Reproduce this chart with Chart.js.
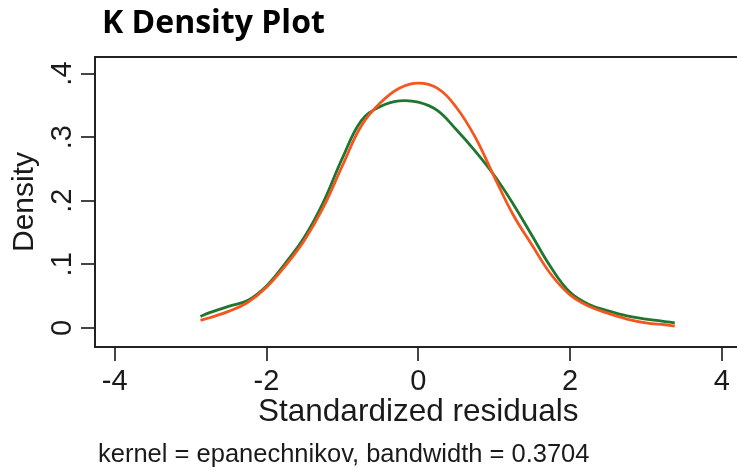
<!DOCTYPE html>
<html>
<head>
<meta charset="utf-8">
<script src="https://cdn.jsdelivr.net/npm/chart.js@4.4.1/dist/chart.umd.min.js"></script>
<style>
  html, body { margin: 0; padding: 0; background: #fff; }
</style>
</head>
<body>
<canvas id="densityChart" width="737" height="473"></canvas>
<script>
// residual grid (x) and the two density curves
const residualX = [-2.87, -2.75, -2.5, -2.25, -2, -1.75, -1.5, -1.25, -1, -0.75, -0.5, -0.25, 0,
                   0.25, 0.5, 0.75, 1, 1.25, 1.5, 1.75, 2, 2.25, 2.5, 2.75, 3, 3.25, 3.38];
const normalDensity = [0.012, 0.016, 0.026, 0.040, 0.064, 0.098, 0.138, 0.190, 0.255, 0.318, 0.354, 0.377, 0.385,
                       0.377, 0.347, 0.300, 0.238, 0.178, 0.130, 0.084, 0.052, 0.034, 0.023, 0.014, 0.008, 0.005, 0.003];
const kernelDensity = [0.018, 0.024, 0.034, 0.043, 0.066, 0.102, 0.143, 0.198, 0.267, 0.326, 0.348, 0.357, 0.355,
                       0.342, 0.312, 0.278, 0.240, 0.195, 0.145, 0.095, 0.056, 0.037, 0.027, 0.019, 0.014, 0.010, 0.008];

const xTickValues = [-4, -2, 0, 2, 4];
const yTickValues = [0, 0.1, 0.2, 0.3, 0.4];
const yTickLabels = ['0', '.1', '.2', '.3', '.4'];

const AXIS_FONT = '"Liberation Sans", Arial, sans-serif';

// 텍스트(제목, 축 제목, 회전된 y 눈금, 각주) 그리기
const stataText = {
    id: 'stataText',
    afterDraw(chart) {
        const ctx = chart.ctx;
        const area = chart.chartArea;
        const xs = chart.scales.x;
        const ys = chart.scales.y;
        ctx.save();

        // top frame line
        ctx.strokeStyle = '#222';
        ctx.lineWidth = 2;
        ctx.beginPath();
        ctx.moveTo(area.left, area.top);
        ctx.lineTo(area.right, area.top);
        ctx.stroke();

        // title
        ctx.fillStyle = '#000';
        ctx.font = 'bold 32px "Open Sans", sans-serif';
        ctx.textAlign = 'left';
        ctx.textBaseline = 'middle';
        ctx.fillText('K Density Plot', 102, 24);

        // rotated y tick labels
        ctx.fillStyle = '#1a1a1a';
        ctx.font = '29px ' + AXIS_FONT;
        yTickValues.forEach(function(v, i) {
            ctx.save();
            ctx.translate(63, ys.getPixelForValue(v));
            ctx.rotate(-Math.PI / 2);
            ctx.textAlign = 'center';
            ctx.textBaseline = 'middle';
            ctx.fillText(yTickLabels[i], 0, 0);
            ctx.restore();
        });

        // y axis title
        ctx.font = '30px ' + AXIS_FONT;
        ctx.save();
        ctx.translate(25, (area.top + area.bottom) / 2);
        ctx.rotate(-Math.PI / 2);
        ctx.textAlign = 'center';
        ctx.textBaseline = 'middle';
        ctx.fillText('Density', 0, 0);
        ctx.restore();

        // x axis title
        ctx.font = '31.5px ' + AXIS_FONT;
        ctx.textAlign = 'center';
        ctx.textBaseline = 'middle';
        ctx.fillText('Standardized residuals', xs.getPixelForValue(0), 412);

        // footnote
        ctx.font = '25.5px ' + AXIS_FONT;
        ctx.textAlign = 'left';
        ctx.fillText('kernel = epanechnikov, bandwidth = 0.3704', 98, 455);

        ctx.restore();
    }
};

new Chart(document.getElementById('densityChart'), {
    type: 'line',
    data: {
        datasets: [
            {
                label: 'Normal density',
                data: residualX.map((x, i) => ({ x: x, y: normalDensity[i] })),
                borderColor: '#f5561d',
                borderWidth: 2.8,
                pointRadius: 0,
                tension: 0.4,
                fill: false
            },
            {
                label: 'Kernel density estimate',
                data: residualX.map((x, i) => ({ x: x, y: kernelDensity[i] })),
                borderColor: '#1f7630',
                borderWidth: 2.8,
                pointRadius: 0,
                tension: 0.4,
                fill: false
            }
        ]
    },
    options: {
        responsive: false,
        animation: false,
        layout: { padding: { top: 57, right: 0, left: 0, bottom: 0 } },
        plugins: {
            legend: { display: false },
            tooltip: { enabled: false },
            title: { display: false }
        },
        scales: {
            x: {
                type: 'linear',
                min: -4.26,
                max: 4.2,
                afterBuildTicks: function(scale) {
                    scale.ticks = xTickValues.map(v => ({ value: v }));
                },
                afterFit: function(scale) { scale.height = 126; },
                ticks: {
                    color: '#1a1a1a',
                    font: { family: AXIS_FONT, size: 29 },
                    padding: 4,
                    maxRotation: 0,
                    callback: v => String(v)
                },
                grid: { drawOnChartArea: false, drawTicks: true, tickLength: 14, color: '#444', lineWidth: 2 },
                border: { display: true, color: '#222', width: 2 }
            },
            y: {
                min: -0.03,
                max: 0.426,
                afterBuildTicks: function(scale) {
                    scale.ticks = yTickValues.map(v => ({ value: v }));
                },
                afterFit: function(scale) { scale.width = 95; },
                ticks: { display: false },
                grid: { drawOnChartArea: false, drawTicks: true, tickLength: 14, color: '#444', lineWidth: 2 },
                border: { display: true, color: '#222', width: 2 }
            }
        }
    },
    plugins: [stataText]
});
</script>
</body>
</html>
